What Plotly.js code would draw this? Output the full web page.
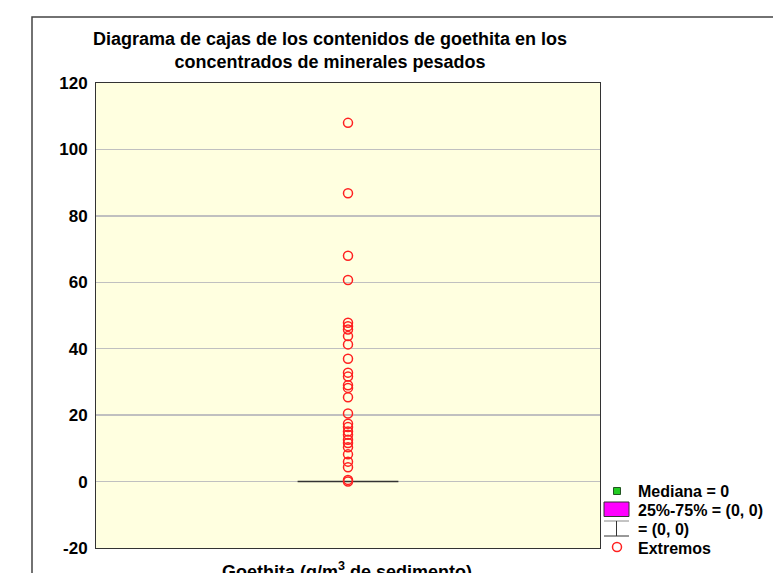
<!DOCTYPE html>
<html>
<head>
<meta charset="utf-8">
<script src="https://cdn.plot.ly/plotly-3.0.1.min.js"></script>
<style>html,body{margin:0;padding:0;background:#fff;}#chart{width:773px;height:573px;}</style>
</head>
<body>
<div id="chart"></div>
<script>
// Data
var categoryName = "Goethita";
var extremos = [108.0, 86.8, 68.0, 60.7, 47.8, 46.8, 45.8, 43.8, 41.3, 37.0, 32.8, 31.6, 29.0, 28.2, 25.4,
                20.5, 17.4, 16.4, 15.1, 14.1, 12.6, 11.6, 10.3, 8.2, 6.0, 4.3, 0.5, 0.0];
var q1 = [0], medianVals = [0], q3 = [0], lowerFence = [0], upperFence = [0];
var yTickVals = [-20, 0, 20, 40, 60, 80, 100, 120];

var FONT = "Liberation Sans, Arial, sans-serif";
var W = 773, H = 573;
var L = 96, R = 600, T = 83, B = 548;
function px(x){ return (x - L) / (R - L); }
function py(y){ return (B - y) / (B - T); }

var traces = [
  {
    type: "box",
    x: [0],
    q1: q1, median: medianVals, q3: q3,
    lowerfence: lowerFence, upperfence: upperFence,
    width: 0.2,
    fillcolor: "#ff00ff",
    line: {color: "#333333", width: 1.5},
    boxpoints: false,
    hoverinfo: "skip",
    showlegend: false
  },
  {
    type: "scatter",
    mode: "markers",
    x: extremos.map(function(){ return 0; }),
    y: extremos,
    marker: {symbol: "circle-open", size: 9, color: "#ff2020", line: {width: 1.5, color: "#ff2020"}},
    showlegend: false,
    cliponaxis: false
  }
];

var shapes = [
  // outer frame
  {type: "rect", xref: "paper", yref: "paper", x0: px(32), x1: px(820), y0: py(620), y1: py(17),
   line: {color: "#444444", width: 1.5}, fillcolor: "rgba(0,0,0,0)", layer: "below"},
  // legend: median marker
  {type: "rect", xref: "paper", yref: "paper", x0: px(613.5), x1: px(620.5), y0: py(494.5), y1: py(487.5),
   line: {color: "#225522", width: 1}, fillcolor: "#22cc22"},
  // legend: box
  {type: "rect", xref: "paper", yref: "paper", x0: px(604), x1: px(629), y0: py(516.5), y1: py(502),
   line: {color: "#333333", width: 1}, fillcolor: "#ff00ff"},
  // legend: whisker symbol
  {type: "line", xref: "paper", yref: "paper", x0: px(604), x1: px(629), y0: py(521), y1: py(521),
   line: {color: "#888888", width: 1}},
  {type: "line", xref: "paper", yref: "paper", x0: px(604), x1: px(629), y0: py(536), y1: py(536),
   line: {color: "#333333", width: 1}},
  {type: "line", xref: "paper", yref: "paper", x0: px(616.5), x1: px(616.5), y0: py(521), y1: py(536),
   line: {color: "#333333", width: 1}},
  // legend: extremos circle
  {type: "circle", xref: "paper", yref: "paper", x0: px(612.5), x1: px(621.5), y0: py(551.5), y1: py(542.5),
   line: {color: "#ff2020", width: 1.5}, fillcolor: "rgba(0,0,0,0)"}
];

function legText(t, y){
  return {text: t, xref: "paper", yref: "paper", x: px(636), y: py(y), xanchor: "left", yanchor: "middle",
          showarrow: false, font: {family: FONT, size: 16, color: "#000"}};
}

var annotations = [
  legText("<b>Mediana = 0</b>", 491.5),
  legText("<b>25%-75% = (0, 0)</b>", 510.5),
  legText("<b>= (0, 0)</b>", 529.5),
  legText("<b>Extremos</b>", 548),
  {text: "<b>Goethita (g/m<sup>3</sup> de sedimento)</b>", xref: "paper", yref: "paper",
   x: px(347), y: py(570), xanchor: "center", yanchor: "middle", showarrow: false,
   font: {family: FONT, size: 18, color: "#000"}}
];

var layout = {
  width: W, height: H,
  margin: {l: L, r: W - R, t: T, b: H - B, pad: 0},
  paper_bgcolor: "#ffffff",
  plot_bgcolor: "#ffffe0",
  showlegend: false,
  title: {
    text: "<b>Diagrama de cajas de los contenidos de goethita en los<br>concentrados de minerales pesados</b>",
    font: {family: FONT, size: 18, color: "#000"},
    x: px(330), xref: "paper", xanchor: "center",
    y: 1 - 45 / H, yref: "container", yanchor: "top"
  },
  xaxis: {
    range: [-0.5, 0.5], showticklabels: false, showgrid: false, zeroline: false,
    showline: true, mirror: true, linecolor: "#333333", linewidth: 1, ticks: ""
  },
  yaxis: {
    range: [-20, 120], tickvals: yTickVals, ticktext: yTickVals.map(function(v){ return "<b>" + v + "</b>"; }),
    tickfont: {family: FONT, size: 17, color: "#000"},
    ticklabelstandoff: 4,
    showgrid: true, gridcolor: "#c0c0c0", gridwidth: 1.5, zeroline: false,
    showline: true, mirror: true, linecolor: "#333333", linewidth: 1, ticks: ""
  },
  shapes: shapes,
  annotations: annotations
};

Plotly.newPlot("chart", traces, layout, {displayModeBar: false, staticPlot: true});
</script>
</body>
</html>
